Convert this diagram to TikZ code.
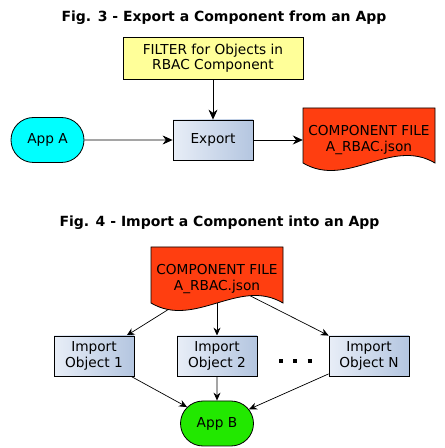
\documentclass[tikz,border=0pt]{standalone}
\usepackage{fontspec}
\setmainfont{DejaVu Sans}
\usetikzlibrary{arrows.meta,shapes.misc}
\definecolor{filteryellow}{RGB}{255,255,153}
\definecolor{appcyan}{RGB}{0,255,255}
\definecolor{appgreen}{RGB}{34,232,0}
\definecolor{filered}{RGB}{255,62,16}
\definecolor{boxleft}{RGB}{232,238,247}
\definecolor{boxright}{RGB}{180,198,224}
\pgfdeclarelayer{links}
\pgfdeclarelayer{paper}
\pgfsetlayers{links,paper,main}
\begin{document}
\begin{tikzpicture}[x=1pt,y=1pt,
  every node/.style={font=\fontsize{13.7}{15.5}\selectfont, align=center},
  title/.style={font=\fontsize{14}{16}\selectfont\bfseries, anchor=base},
  box/.style={rectangle, draw=black, line width=0.8pt, left color=boxleft, right color=boxright, minimum width=80pt, minimum height=40pt, inner sep=0pt},
  app/.style={rounded rectangle, draw=black, line width=0.8pt, minimum width=73pt, minimum height=45pt, inner sep=0pt},
  filetext/.style={minimum width=132pt, minimum height=46pt, inner sep=0pt},
  paper/.style={fill=filered, draw=black, line width=0.8pt},
  flow/.style={-{Stealth[length=10pt,width=9pt]}, line width=0.8pt},
  flowsmall/.style={-{Stealth[length=8pt,width=7pt]}, line width=0.7pt}]
\useasboundingbox (0,0) rectangle (445,448);
% Fig. 3
\node [title] (fig3) at (224,426.3) {Fig. 3 - Export a Component from an App};
\node [rectangle, draw=black, fill=filteryellow, line width=0.8pt, minimum width=180pt, minimum height=42pt] (filter) at (213,390) {FILTER for Objects in\\RBAC Component};
\node [box] (export) at (213,308) {Export};
\node [app, fill=appcyan] (appA) at (47.5,308) {App A};
\node [filetext] (fileA) at (369,308) {COMPONENT FILE\\A\_RBAC.json};
\begin{pgfonlayer}{paper}
\filldraw [paper, shift={(fileA.center)}] (-66,32) -- (66,32) -- (66,-23) .. controls (22,3) and (-22,-49) .. (-66,-23) -- cycle;
\end{pgfonlayer}
\draw [flow] (filter) -- (export);
\draw [flow] (appA) -- (export);
\draw [flow] (export) -- (fileA);
% Fig. 4
\node [title] (fig4) at (219.5,221.3) {Fig. 4 - Import a Component into an App};
\node [filetext] (fileB) at (217,169) {COMPONENT FILE\\A\_RBAC.json};
\begin{pgfonlayer}{paper}
\filldraw [paper, shift={(fileB.center)}] (-66,32) -- (66,32) -- (66,-24) .. controls (22,2) and (-22,-50) .. (-66,-24) -- cycle;
\end{pgfonlayer}
\node [box] (obj1) at (94,92) {Import\\Object 1};
\node [box] (obj2) at (217,92) {Import\\Object 2};
\node [box] (objN) at (369,92) {Import\\Object N};
\node [app, fill=appgreen] (appB) at (217,24.5) {App B};
\draw [line width=4pt, dash pattern=on 4pt off 10.3pt] (279,87) -- (312,87);
\begin{pgfonlayer}{links}
\draw [flowsmall] (fileB.center) -- (obj1);
\draw [flowsmall] (fileB.center) -- (obj2);
\draw [flowsmall] (fileB.center) -- (objN);
\end{pgfonlayer}
\draw [flowsmall] (obj1) -- (appB);
\draw [flowsmall] (obj2) -- (appB);
\draw [flowsmall] (objN) -- (appB);
\end{tikzpicture}
\end{document}
